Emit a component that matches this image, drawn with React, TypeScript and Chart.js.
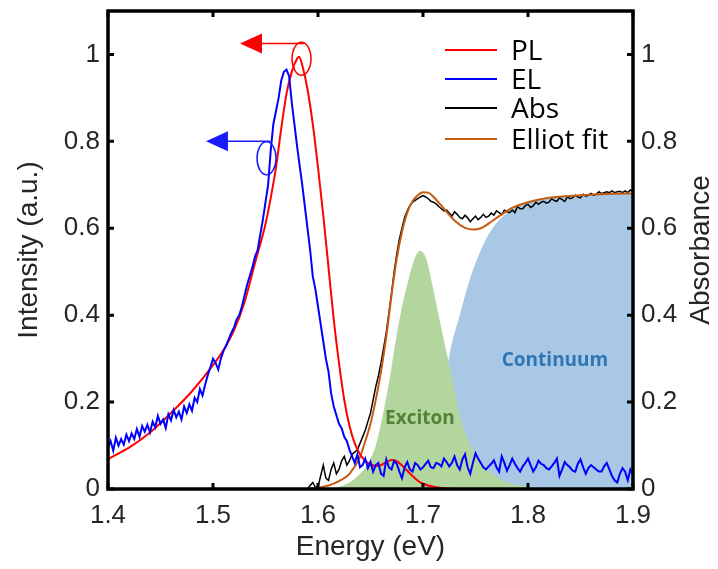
import React, { useEffect, useRef } from "react";
import { Chart, registerables } from "chart.js";

Chart.register(...registerables);

// ---------- data ----------
const X_TICKS = [1.4, 1.5, 1.6, 1.7, 1.8, 1.9];
const Y_TICKS = [0, 0.2, 0.4, 0.6, 0.8, 1];
const SERIES_NAMES = ["PL", "EL", "Abs", "Elliot fit"];
const SERIES_COLORS = ["#ff0000", "#0000ff", "#000000", "#c55a11"];

const PL_E = [1.4, 1.42, 1.44, 1.46, 1.48, 1.5, 1.51, 1.52, 1.53, 1.54, 1.55, 1.555, 1.56, 1.565, 1.57, 1.575, 1.58, 1.582, 1.585, 1.59, 1.595, 1.6, 1.605, 1.61, 1.615, 1.62, 1.625, 1.63, 1.635, 1.64, 1.645, 1.65, 1.655, 1.66, 1.665, 1.67, 1.675, 1.68, 1.685, 1.69, 1.695, 1.7, 1.71, 1.72, 1.74, 1.9];
const PL_Y = [0.069, 0.095, 0.13, 0.175, 0.225, 0.285, 0.32, 0.365, 0.43, 0.52, 0.61, 0.67, 0.74, 0.83, 0.91, 0.96, 0.99, 0.995, 0.975, 0.92, 0.84, 0.74, 0.63, 0.51, 0.39, 0.29, 0.205, 0.145, 0.105, 0.08, 0.065, 0.057, 0.053, 0.055, 0.062, 0.067, 0.064, 0.054, 0.042, 0.03, 0.019, 0.012, 0.005, 0.002, 0, 0];

const EL_START = 1.4;
const EL_STEP = 0.0025;
const EL_Y = [
  0.095, 0.11, 0.088, 0.118, 0.1, 0.115, 0.102, 0.125, 0.11, 0.128,
  0.115, 0.138, 0.12, 0.145, 0.132, 0.148, 0.13, 0.155, 0.142, 0.168,
  0.15, 0.16, 0.14, 0.172, 0.158, 0.182, 0.165, 0.178, 0.16, 0.19,
  0.175, 0.195, 0.18, 0.21, 0.2, 0.23, 0.215, 0.24, 0.262, 0.28,
  0.3, 0.29, 0.275, 0.3, 0.318, 0.33, 0.345, 0.36, 0.372, 0.39,
  0.4, 0.42, 0.445, 0.47, 0.49, 0.51, 0.535, 0.55, 0.585, 0.62,
  0.66, 0.7, 0.78, 0.84, 0.87, 0.9, 0.94, 0.96, 0.965, 0.95,
  0.89, 0.84, 0.79, 0.745, 0.7, 0.65, 0.6, 0.55, 0.49, 0.46,
  0.42, 0.38, 0.34, 0.3, 0.27, 0.22, 0.19, 0.17, 0.15, 0.14,
  0.12, 0.11, 0.09, 0.075, 0.06, 0.08, 0.05, 0.055, 0.07, 0.048,
  0.062, 0.04, 0.055, 0.06, 0.035, 0.03, 0.068, 0.05, 0.045, 0.065,
  0.058, 0.04, 0.025, 0.05, 0.062, 0.045, 0.04, 0.06, 0.055, 0.045,
  0.05, 0.058, 0.065, 0.05, 0.048, 0.06, 0.058, 0.052, 0.07, 0.062,
  0.052, 0.06, 0.075, 0.055, 0.045, 0.068, 0.08, 0.05, 0.035, 0.06,
  0.082, 0.07, 0.06, 0.05, 0.045, 0.052, 0.058, 0.066, 0.05, 0.04,
  0.075, 0.06, 0.042, 0.055, 0.07, 0.058, 0.048, 0.04, 0.052, 0.06,
  0.07, 0.055, 0.04, 0.05, 0.065, 0.058, 0.055, 0.048, 0.045, 0.052,
  0.06, 0.07, 0.03, 0.045, 0.062, 0.055, 0.05, 0.042, 0.04, 0.058,
  0.068, 0.05, 0.035, 0.048, 0.055, 0.05, 0.045, 0.04, 0.04, 0.052,
  0.06, 0.045, 0.03, 0.02, 0.015, 0.035, 0.048, 0.04, 0.02, 0.045,
  0.035,
];

const ABS_START = 1.59;
const ABS_STEP = 0.0025;
const ABS_Y = [
  0.0, 0.008, 0.015, 0.004, 0.005, 0.03, 0.055, 0.025, 0.02, 0.045,
  0.06, 0.035, 0.045, 0.065, 0.075, 0.055, 0.065, 0.08, 0.085, 0.09,
  0.105, 0.12, 0.135, 0.155, 0.175, 0.205, 0.235, 0.26, 0.29, 0.325,
  0.36, 0.405, 0.45, 0.5, 0.54, 0.575, 0.6, 0.625, 0.64, 0.652,
  0.66, 0.664, 0.668, 0.672, 0.675, 0.672, 0.668, 0.662, 0.66, 0.656,
  0.65, 0.645, 0.64, 0.642, 0.635, 0.628, 0.638, 0.632, 0.625, 0.622,
  0.63, 0.624, 0.615, 0.622, 0.628, 0.62, 0.625, 0.632, 0.625, 0.628,
  0.635, 0.63, 0.64, 0.636, 0.632, 0.642, 0.638, 0.636, 0.642, 0.636,
  0.65, 0.645, 0.645, 0.652, 0.655, 0.648, 0.652, 0.66, 0.655, 0.66,
  0.662, 0.658, 0.66, 0.668, 0.664, 0.662, 0.67, 0.666, 0.662, 0.672,
  0.668, 0.67, 0.676, 0.672, 0.67, 0.678, 0.674, 0.676, 0.68, 0.676,
  0.678, 0.684, 0.68, 0.682, 0.684, 0.682, 0.686, 0.682, 0.684, 0.685,
  0.682, 0.686, 0.682, 0.688, 0.684,
];

const FIT_E = [1.59, 1.6, 1.61, 1.62, 1.63, 1.64, 1.645, 1.65, 1.655, 1.66, 1.665, 1.67, 1.675, 1.68, 1.685, 1.69, 1.695, 1.7, 1.705, 1.71, 1.72, 1.73, 1.74, 1.748, 1.755, 1.765, 1.775, 1.785, 1.8, 1.82, 1.85, 1.875, 1.9];
const FIT_Y = [0, 0.003, 0.008, 0.018, 0.035, 0.074, 0.11, 0.15, 0.205, 0.27, 0.35, 0.445, 0.53, 0.592, 0.636, 0.662, 0.676, 0.683, 0.682, 0.672, 0.645, 0.618, 0.601, 0.597, 0.6, 0.615, 0.632, 0.647, 0.66, 0.67, 0.676, 0.679, 0.68];

const EXC_E = [1.61, 1.62, 1.63, 1.64, 1.648, 1.655, 1.662, 1.668, 1.673, 1.68, 1.686, 1.692, 1.697, 1.703, 1.708, 1.714, 1.721, 1.728, 1.735, 1.746, 1.755, 1.765, 1.78, 1.8, 1.82];
const EXC_Y = [0, 0.005, 0.015, 0.035, 0.06, 0.1, 0.174, 0.25, 0.327, 0.42, 0.48, 0.53, 0.548, 0.53, 0.48, 0.41, 0.33, 0.25, 0.17, 0.097, 0.06, 0.037, 0.015, 0.005, 0];

const CONT_E = [1.7, 1.71, 1.72, 1.727, 1.735, 1.743, 1.75, 1.76, 1.77, 1.78, 1.79, 1.8, 1.82, 1.85, 1.9];
const CONT_Y = [0, 0.12, 0.24, 0.33, 0.4, 0.47, 0.52, 0.575, 0.612, 0.635, 0.65, 0.66, 0.668, 0.676, 0.68];

// annotation anchors (data coordinates)
const ARROW_Y = [1.025, 0.8];
const ARROW_FROM_X = [1.5865, 1.5545];
const ARROW_TIP_X = [1.5257, 1.4933];
const ELLIPSE_CX = [1.5843, 1.551];
const ELLIPSE_CY = [0.99, 0.761];
const ARROW_COLORS = ["#ff0000", "#1a1aff"];

const REGION_LABELS = ["Exciton", "Continuum"];
const REGION_X = [1.697, 1.8257];
const REGION_Y = [0.161, 0.2966];
const REGION_COLORS = ["#548235", "#2e75b6"];

const zip = (xs: number[], ys: number[]) => ys.map((y, i) => ({ x: xs[i], y }));
const grid = (start: number, step: number, ys: number[]) =>
  ys.map((y, i) => ({ x: +(start + i * step).toFixed(4), y }));

const TICK_FONT = "Liberation Sans, Arial, sans-serif";
const TEXT_COLOR = "#262626";

const decorPlugin = {
  id: "decor",
  afterDatasetsDraw(chart: any) {
    const { ctx, chartArea } = chart;
    const xs = chart.scales.x;
    const ys = chart.scales.y;
    const { left, right, top, bottom } = chartArea;
    ctx.save();

    // region labels
    ctx.font = "bold 19px 'Open Sans', sans-serif";
    ctx.textAlign = "center";
    ctx.textBaseline = "middle";
    REGION_LABELS.forEach((t, i) => {
      ctx.fillStyle = REGION_COLORS[i];
      ctx.fillText(t, xs.getPixelForValue(REGION_X[i]), ys.getPixelForValue(REGION_Y[i]));
    });

    // arrows & ellipses
    ARROW_COLORS.forEach((c, i) => {
      const y = ys.getPixelForValue(ARROW_Y[i]);
      const x0 = xs.getPixelForValue(ARROW_FROM_X[i]);
      const tip = xs.getPixelForValue(ARROW_TIP_X[i]);
      ctx.strokeStyle = c;
      ctx.fillStyle = c;
      ctx.lineWidth = 1.5;
      ctx.beginPath();
      ctx.moveTo(x0, y);
      ctx.lineTo(tip + 18, y);
      ctx.stroke();
      ctx.beginPath();
      ctx.moveTo(tip, y);
      ctx.lineTo(tip + 22, y - 10);
      ctx.lineTo(tip + 22, y + 10);
      ctx.closePath();
      ctx.fill();
      ctx.beginPath();
      ctx.ellipse(xs.getPixelForValue(ELLIPSE_CX[i]), ys.getPixelForValue(ELLIPSE_CY[i]), 9.5, 16.5, 0, 0, Math.PI * 2);
      ctx.stroke();
    });

    // frame
    ctx.strokeStyle = "#000";
    ctx.lineWidth = 3.5;
    ctx.strokeRect(left, top, right - left, bottom - top);

    // inner ticks
    ctx.lineWidth = 3;
    const tl = 6;
    X_TICKS.forEach((v) => {
      const px = xs.getPixelForValue(v);
      ctx.beginPath();
      ctx.moveTo(px, bottom);
      ctx.lineTo(px, bottom - tl);
      ctx.moveTo(px, top);
      ctx.lineTo(px, top + tl);
      ctx.stroke();
    });
    Y_TICKS.forEach((v) => {
      const py = ys.getPixelForValue(v);
      ctx.beginPath();
      ctx.moveTo(left, py);
      ctx.lineTo(left + tl, py);
      ctx.moveTo(right, py);
      ctx.lineTo(right - tl, py);
      ctx.stroke();
    });

    // legend
    const legY = [50, 79, 108, 139];
    ctx.font = "28px 'Open Sans', sans-serif";
    ctx.textAlign = "left";
    ctx.textBaseline = "alphabetic";
    SERIES_NAMES.forEach((n, i) => {
      ctx.strokeStyle = SERIES_COLORS[i];
      ctx.lineWidth = 2;
      ctx.beginPath();
      ctx.moveTo(445, legY[i]);
      ctx.lineTo(497, legY[i]);
      ctx.stroke();
      ctx.fillStyle = "#000";
      ctx.fillText(n, 511, legY[i] + 10);
    });

    // axis titles
    ctx.fillStyle = TEXT_COLOR;
    ctx.font = `28px ${TICK_FONT}`;
    ctx.textAlign = "center";
    ctx.textBaseline = "alphabetic";
    ctx.fillText("Energy (eV)", (left + right) / 2, 555);
    const midY = (top + bottom) / 2;
    ctx.save();
    ctx.translate(37, midY);
    ctx.rotate(-Math.PI / 2);
    ctx.fillText("Intensity (a.u.)", 0, 0);
    ctx.restore();
    ctx.save();
    ctx.translate(709, midY);
    ctx.rotate(-Math.PI / 2);
    ctx.fillText("Absorbance", 0, 0);
    ctx.restore();

    ctx.restore();
  },
};

const noPad = (s: any) => {
  s.paddingTop = 0;
  s.paddingBottom = 0;
  s.paddingLeft = 0;
  s.paddingRight = 0;
};

export default function App() {
  const ref = useRef<HTMLCanvasElement>(null);
  useEffect(() => {
    if (!ref.current) return;
    const lineBase = { pointRadius: 0, fill: false, spanGaps: true };
    const chart = new Chart(ref.current, {
      type: "line",
      data: {
        datasets: [
          { ...lineBase, label: "EL", data: grid(EL_START, EL_STEP, EL_Y), borderColor: "#0000ff", borderWidth: 2, tension: 0, yAxisID: "y" },
          { ...lineBase, label: "PL", data: zip(PL_E, PL_Y), borderColor: "#ff0000", borderWidth: 2, cubicInterpolationMode: "monotone", yAxisID: "y" },
          { ...lineBase, label: "Elliot fit", data: zip(FIT_E, FIT_Y), borderColor: "#c55a11", borderWidth: 2, cubicInterpolationMode: "monotone", yAxisID: "y2" },
          { ...lineBase, label: "Abs", data: grid(ABS_START, ABS_STEP, ABS_Y), borderColor: "#000000", borderWidth: 1.5, tension: 0, yAxisID: "y2" },
          { pointRadius: 0, label: "Exciton", data: zip(EXC_E, EXC_Y), borderWidth: 0, borderColor: "rgba(0,0,0,0)", backgroundColor: "#b3d59e", fill: "origin", cubicInterpolationMode: "monotone", yAxisID: "y2" },
          { pointRadius: 0, label: "Continuum", data: zip(CONT_E, CONT_Y), borderWidth: 0, borderColor: "rgba(0,0,0,0)", backgroundColor: "#a9c8e5", fill: "origin", cubicInterpolationMode: "monotone", yAxisID: "y2" },
        ] as any,
      },
      options: {
        animation: false,
        responsive: false,
        devicePixelRatio: 1,
        events: [],
        layout: { padding: { top: 11, left: 0, right: 0, bottom: 0 } },
        plugins: { legend: { display: false }, tooltip: { enabled: false }, title: { display: false } },
        scales: {
          x: {
            type: "linear",
            min: 1.4,
            max: 1.9,
            grid: { display: false, drawTicks: false },
            border: { display: false },
            afterBuildTicks: (s: any) => { s.ticks = X_TICKS.map((v) => ({ value: v })); },
            afterFit: (s: any) => { s.height = 80; noPad(s); },
            ticks: { padding: 11, color: TEXT_COLOR, font: { family: TICK_FONT, size: 26 }, callback: (v: any) => Number(v).toFixed(1), maxRotation: 0 },
          },
          y: {
            type: "linear",
            position: "left",
            min: 0,
            max: 1.1,
            grid: { display: false, drawTicks: false },
            border: { display: false },
            afterBuildTicks: (s: any) => { s.ticks = Y_TICKS.map((v) => ({ value: v })); },
            afterFit: (s: any) => { s.width = 108; noPad(s); },
            ticks: { padding: 8, color: TEXT_COLOR, font: { family: TICK_FONT, size: 26 }, callback: (v: any) => String(+Number(v).toFixed(1)) },
          },
          y2: {
            type: "linear",
            position: "right",
            min: 0,
            max: 1.1,
            grid: { display: false, drawTicks: false },
            border: { display: false },
            afterBuildTicks: (s: any) => { s.ticks = Y_TICKS.map((v) => ({ value: v })); },
            afterFit: (s: any) => { s.width = 85; noPad(s); },
            ticks: { padding: 8, color: TEXT_COLOR, font: { family: TICK_FONT, size: 26 }, callback: (v: any) => String(+Number(v).toFixed(1)) },
          },
        },
      } as any,
      plugins: [decorPlugin],
    });
    return () => chart.destroy();
  }, []);
  return (
    <div style={{ position: "fixed", left: 0, top: 0, width: 718, height: 569, background: "#fff" }}>
      <canvas ref={ref} width={718} height={569} style={{ display: "block" }} />
    </div>
  );
}
